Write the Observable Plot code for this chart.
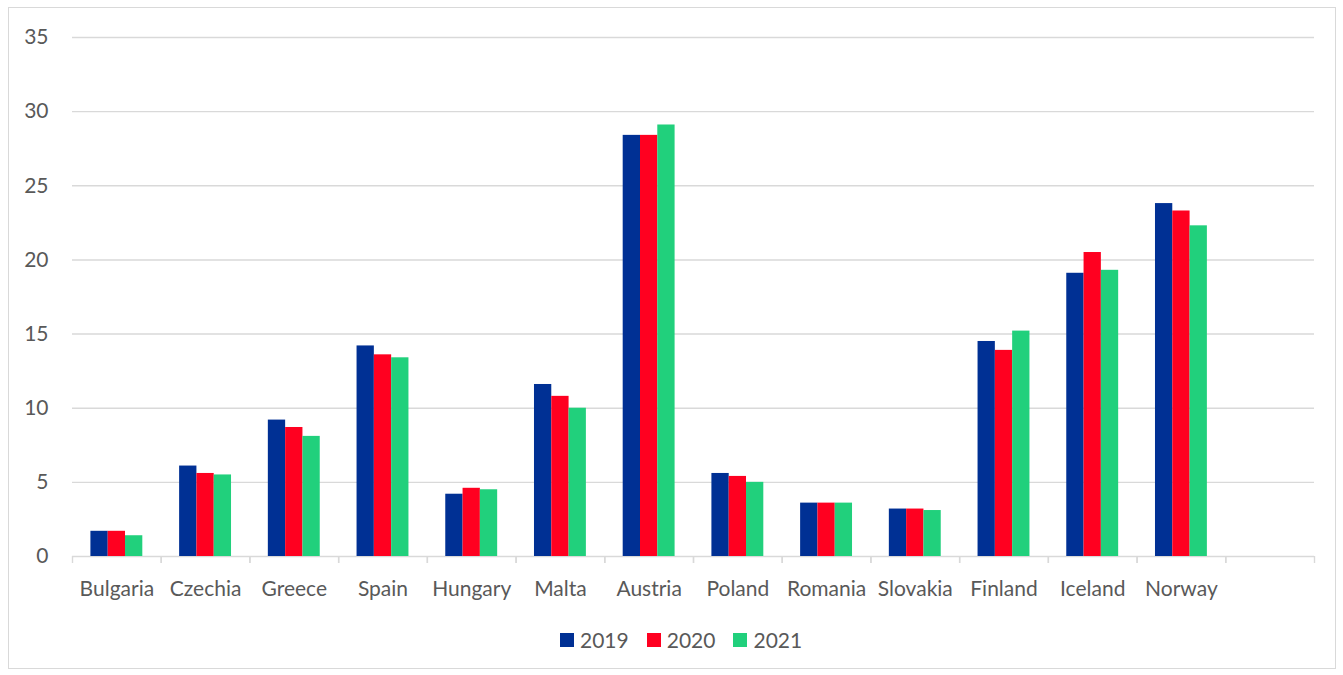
<!DOCTYPE html>
<html>
<head>
<meta charset="utf-8">
<script src="https://cdn.jsdelivr.net/npm/d3@7"></script>
<script src="https://cdn.jsdelivr.net/npm/@observablehq/plot@0.6"></script>
<style>
  html, body { margin: 0; padding: 0; background: #fff; }
  body { width: 1343px; height: 675px; position: relative; overflow: hidden; font-family: Lato, "Open Sans", sans-serif; }
  #frame { position: absolute; left: 8px; top: 7px; width: 1328px; height: 662px; border: 1px solid #d9d9d9; box-sizing: border-box; }
  #chart { position: absolute; left: 0; top: 0; }
  #legend { position: absolute; left: 560px; top: 627px; display: flex; align-items: center; font-size: 21px; line-height: 1.2; color: #595959; }
  #legend .item { display: flex; align-items: center; margin-right: 18px; }
  #legend .sw { width: 14px; height: 14px; margin-right: 6px; }
</style>
</head>
<body>
<div id="frame"></div>
<div id="chart"></div>
<div id="legend"></div>
<script>
const countries = ["Bulgaria","Czechia","Greece","Spain","Hungary","Malta","Austria","Poland","Romania","Slovakia","Finland","Iceland","Norway"];
const years = ["2019","2020","2021"];
const values2019 = [1.7, 6.1, 9.2, 14.2, 4.2, 11.6, 28.4, 5.6, 3.6, 3.2, 14.5, 19.1, 23.8];
const values2020 = [1.7, 5.6, 8.7, 13.6, 4.6, 10.8, 28.4, 5.4, 3.6, 3.2, 13.9, 20.5, 23.3];
const values2021 = [1.4, 5.5, 8.1, 13.4, 4.5, 10.0, 29.1, 5.0, 3.6, 3.1, 15.2, 19.3, 22.3];
const yTicks = [0, 5, 10, 15, 20, 25, 30, 35];
const colors = ["#003094", "#ff0020", "#21d07c"];

const seriesValues = [values2019, values2020, values2021];

// layout
const W = 1343, H = 615, mL = 72, mR = 29, mT = 37, mB = H - 556;
const xDomain = [...countries, ""];
const step = (W - mL - mR) / xDomain.length;
const barW = 17.3;
const groupOffset = (step - years.length * barW) / 2;

const barMarks = years.map((year, i) => {
  const rows = countries.map((c, j) => ({country: c, year, value: seriesValues[i][j]}));
  return Plot.barY(rows, {
    x: "country",
    y: "value",
    fill: "year",
    insetLeft: groupOffset + i * barW,
    insetRight: step - groupOffset - (i + 1) * barW
  });
});

const chart = Plot.plot({
  width: W,
  height: H,
  marginLeft: mL,
  marginRight: mR,
  marginTop: mT,
  marginBottom: mB,
  style: {fontFamily: "Lato, 'Open Sans', sans-serif", fontSize: "21px", color: "#595959", background: "transparent"},
  x: {domain: xDomain, padding: 0, round: false, axis: null},
  y: {domain: [0, 35], axis: null},
  color: {domain: years, range: colors},
  marks: [
    Plot.gridY(yTicks, {stroke: "#d9d9d9", strokeOpacity: 1, strokeWidth: 1.4}),
    Plot.axisY({ticks: yTicks, tickSize: 0, tickPadding: 24, label: null, tickFormat: d => d, fill: "#595959"}),
    Plot.axisX({tickSize: 0, tickPadding: 25, label: null, fill: "#595959"}),
    Plot.axisX({tickSize: 7, tickPadding: 0, label: null, tickFormat: () => "", dx: -step / 2, stroke: "#d9d9d9", strokeWidth: 1.4, strokeOpacity: 1}),
    Plot.axisX({tickSize: 7, tickPadding: 0, label: null, tickFormat: () => "", dx: step / 2, stroke: "#d9d9d9", strokeWidth: 1.4, strokeOpacity: 1}),
    ...barMarks
  ]
});
document.getElementById("chart").appendChild(chart);

const legend = document.getElementById("legend");
years.forEach((y, i) => {
  const item = document.createElement("div");
  item.className = "item";
  const sw = document.createElement("div");
  sw.className = "sw";
  sw.style.background = colors[i];
  const t = document.createElement("span");
  t.textContent = y;
  item.appendChild(sw);
  item.appendChild(t);
  legend.appendChild(item);
});
</script>
</body>
</html>
